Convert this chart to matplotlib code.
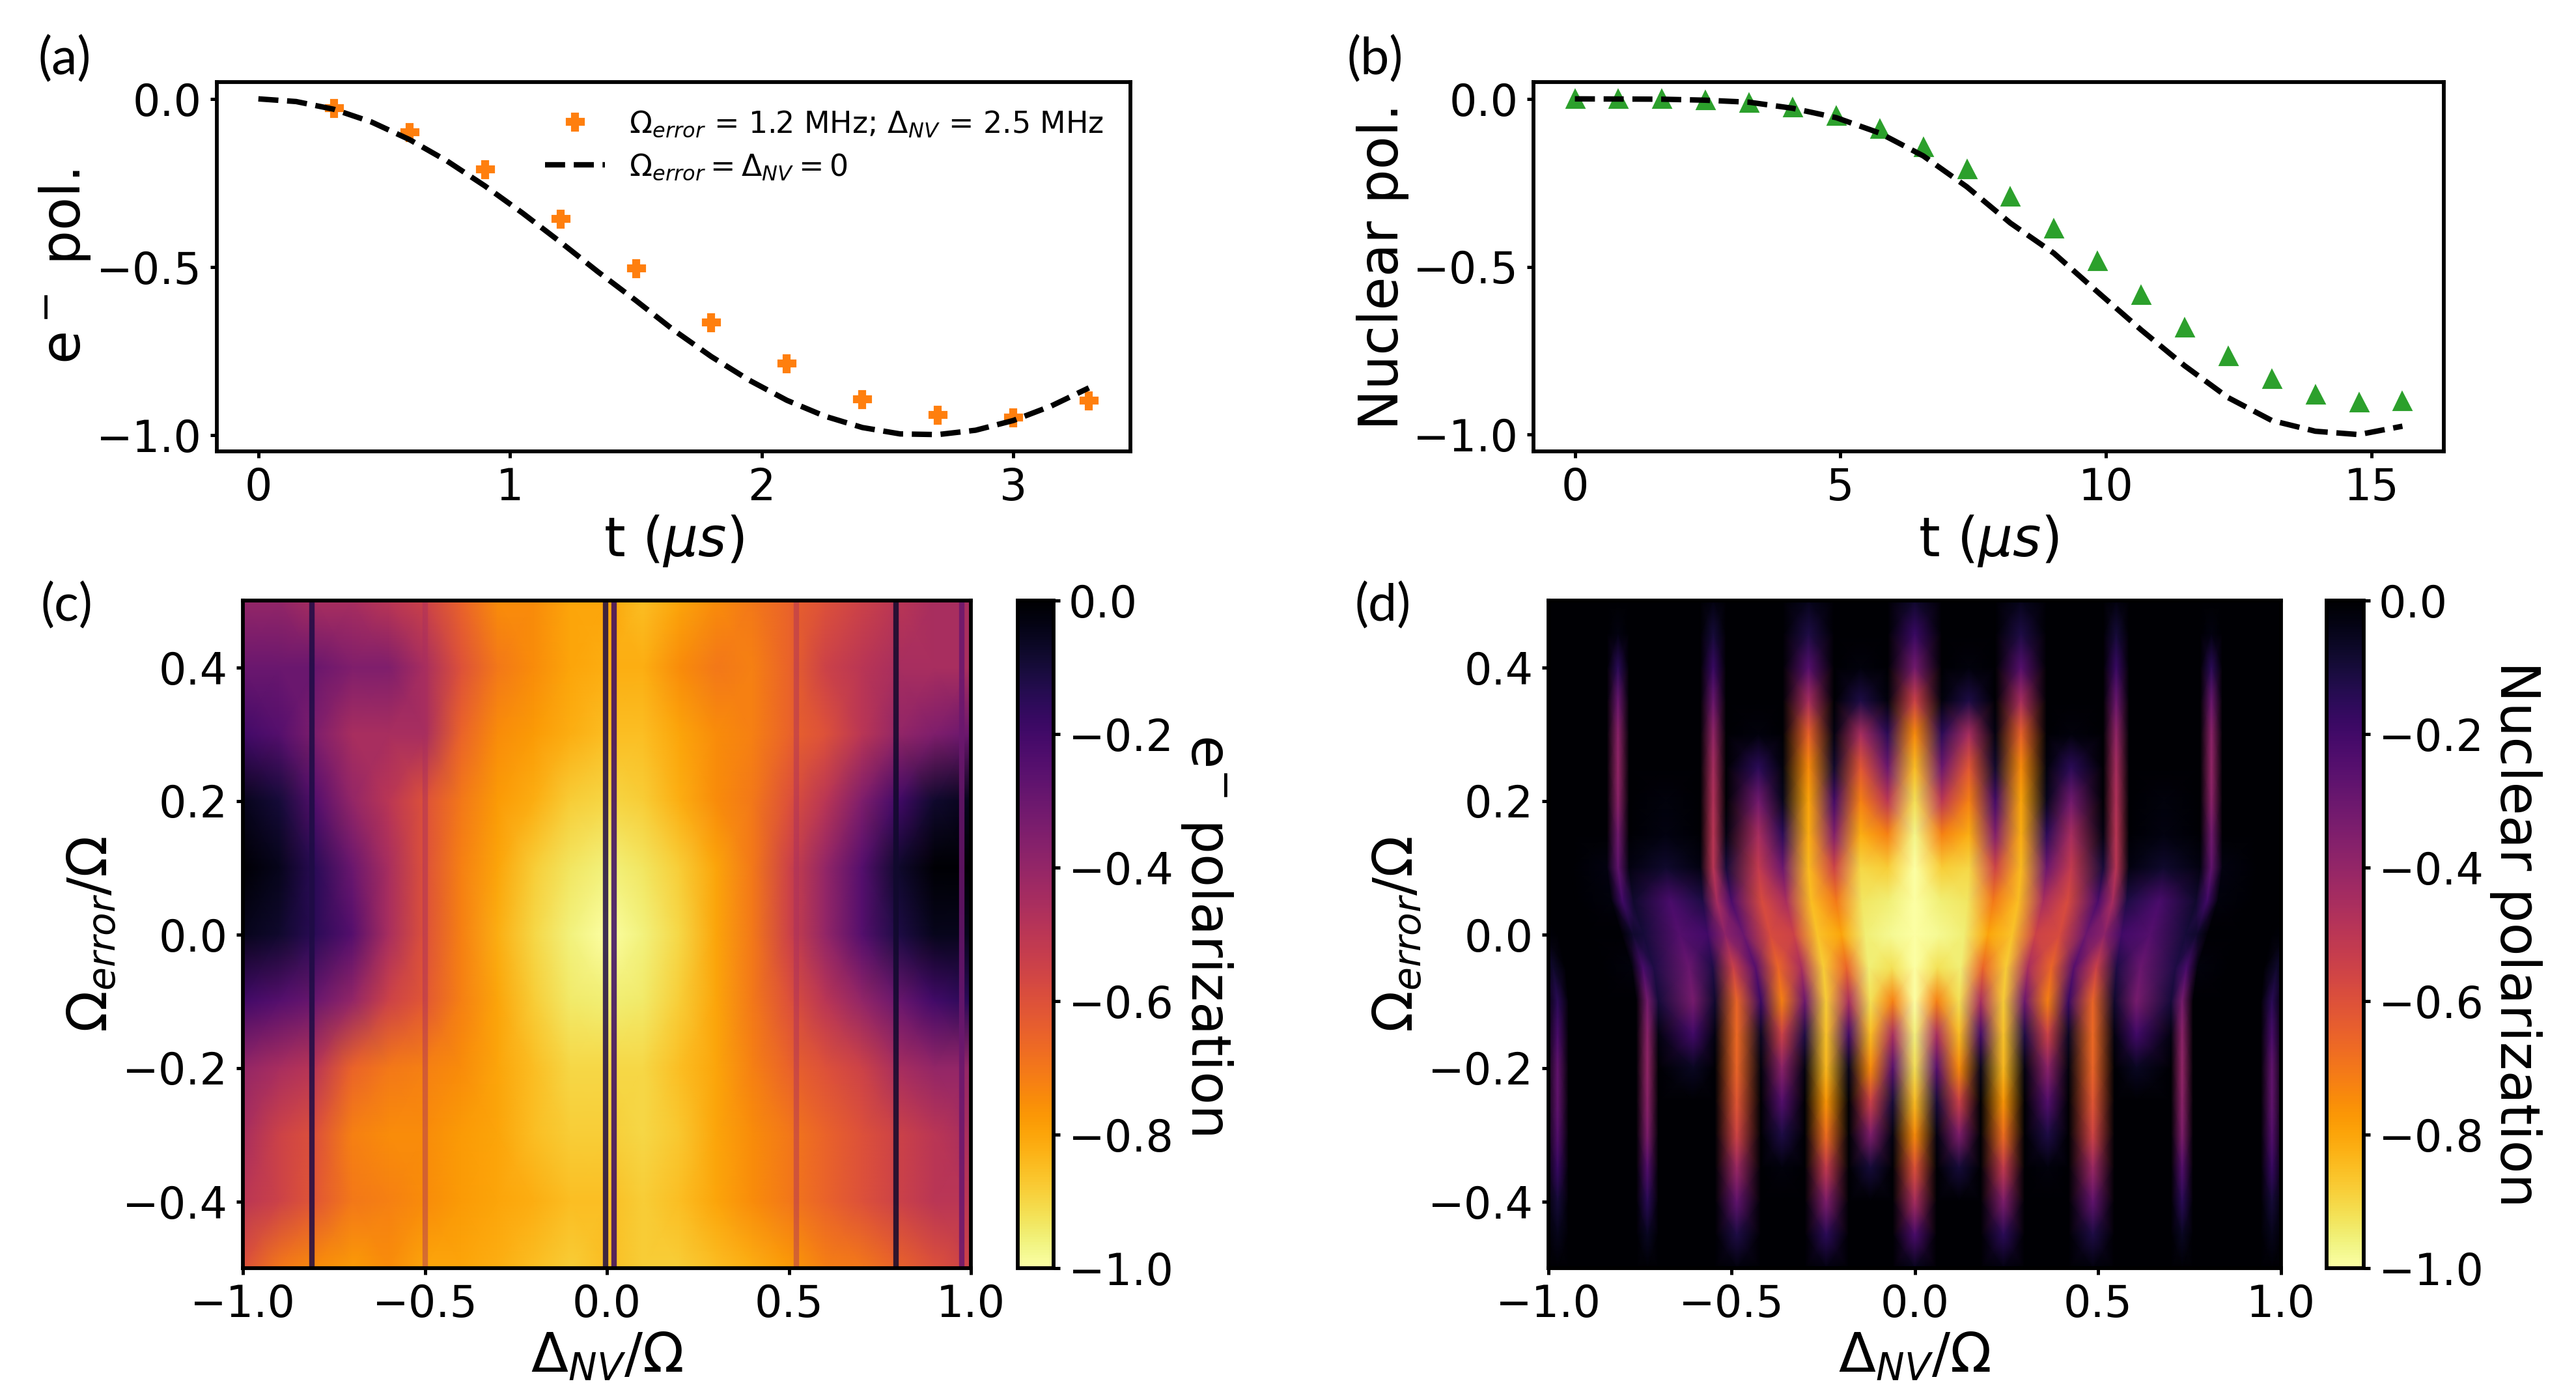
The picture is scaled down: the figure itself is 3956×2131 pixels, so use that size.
import numpy as np
import matplotlib.pyplot as plt
from matplotlib.colors import Normalize

# ---- (a) electron polarization vs time ----
t_a_pts = [0.3, 0.6, 0.9, 1.2, 1.5, 1.8, 2.1, 2.4, 2.7, 3.0, 3.3]
pol_a_pts = [-0.027, -0.10, -0.21, -0.358, -0.505, -0.665, -0.788, -0.893, -0.94, -0.948, -0.897]
t_a_line = [0, 0.15, 0.3, 0.45, 0.6, 0.75, 0.9, 1.05, 1.2, 1.35, 1.5, 1.65,
            1.8, 1.95, 2.1, 2.25, 2.4, 2.55, 2.7, 2.85, 3.0, 3.15, 3.3]
pol_a_line = [0, -0.008, -0.031, -0.069, -0.121, -0.185, -0.259, -0.340, -0.426,
              -0.515, -0.600, -0.688, -0.767, -0.837, -0.897, -0.944, -0.978,
              -0.997, -0.999, -0.986, -0.957, -0.914, -0.860]

# ---- (b) nuclear polarization vs time ----
t_b_pts = [0, 0.82, 1.64, 2.46, 3.28, 4.1, 4.92, 5.74, 6.56, 7.38, 8.2, 9.02,
           9.84, 10.66, 11.48, 12.3, 13.12, 13.94, 14.76, 15.58]
pol_b_pts = [0, 0, 0, -0.004, -0.012, -0.026, -0.051, -0.09, -0.144, -0.21, -0.292,
             -0.386, -0.483, -0.584, -0.681, -0.766, -0.834, -0.882, -0.905, -0.901]
t_b_line = [0, 1.64, 2.46, 3.28, 4.1, 4.92, 5.74, 6.56, 7.38, 8.2, 9.02, 9.84,
            10.66, 11.48, 12.3, 13.12, 13.94, 14.76, 15.58]
pol_b_line = [0, -0.001, -0.004, -0.01, -0.028, -0.056, -0.102, -0.17, -0.262,
              -0.37, -0.46, -0.575, -0.688, -0.795, -0.89, -0.958, -0.99, -1.0, -0.975]

# ---- (c) electron polarization map (polarization = -depth) ----
e_x = [-1.0, -0.9, -0.8, -0.7, -0.6, -0.5, -0.4, -0.3, -0.2, -0.1, 0.0,
       0.1, 0.2, 0.3, 0.4, 0.5, 0.6, 0.7, 0.8, 0.9, 1.0]
e_y = [0.5, 0.4, 0.3, 0.2, 0.1, 0.0, -0.1, -0.2, -0.3, -0.4, -0.5]
e_depth = [
    [0.40, 0.40, 0.45, 0.45, 0.50, 0.55, 0.65, 0.75, 0.75, 0.80, 0.80, 0.85, 0.80, 0.75, 0.70, 0.65, 0.60, 0.55, 0.50, 0.45, 0.45],
    [0.30, 0.30, 0.30, 0.35, 0.35, 0.45, 0.60, 0.70, 0.75, 0.80, 0.82, 0.82, 0.75, 0.70, 0.72, 0.65, 0.55, 0.50, 0.45, 0.45, 0.45],
    [0.20, 0.25, 0.35, 0.45, 0.45, 0.45, 0.65, 0.75, 0.78, 0.82, 0.85, 0.85, 0.80, 0.75, 0.72, 0.65, 0.60, 0.50, 0.40, 0.35, 0.30],
    [0.05, 0.10, 0.25, 0.40, 0.50, 0.60, 0.70, 0.78, 0.82, 0.88, 0.90, 0.88, 0.82, 0.75, 0.70, 0.60, 0.50, 0.35, 0.20, 0.08, 0.05],
    [0.00, 0.05, 0.15, 0.30, 0.45, 0.60, 0.72, 0.80, 0.88, 0.93, 0.96, 0.93, 0.88, 0.80, 0.70, 0.55, 0.40, 0.25, 0.08, 0.00, 0.00],
    [0.05, 0.08, 0.15, 0.25, 0.45, 0.60, 0.72, 0.82, 0.90, 0.96, 1.00, 0.96, 0.90, 0.80, 0.70, 0.55, 0.40, 0.25, 0.12, 0.05, 0.05],
    [0.20, 0.25, 0.30, 0.40, 0.55, 0.62, 0.72, 0.80, 0.88, 0.94, 0.95, 0.94, 0.88, 0.80, 0.70, 0.60, 0.50, 0.40, 0.30, 0.20, 0.15],
    [0.40, 0.45, 0.50, 0.65, 0.70, 0.72, 0.75, 0.80, 0.85, 0.90, 0.90, 0.90, 0.85, 0.80, 0.72, 0.65, 0.60, 0.55, 0.45, 0.40, 0.40],
    [0.45, 0.55, 0.60, 0.72, 0.75, 0.75, 0.78, 0.80, 0.85, 0.88, 0.88, 0.90, 0.87, 0.80, 0.75, 0.70, 0.65, 0.60, 0.55, 0.50, 0.45],
    [0.50, 0.55, 0.62, 0.70, 0.72, 0.75, 0.78, 0.80, 0.82, 0.85, 0.85, 0.88, 0.85, 0.80, 0.75, 0.70, 0.65, 0.60, 0.55, 0.50, 0.50],
    [0.60, 0.70, 0.75, 0.78, 0.75, 0.80, 0.80, 0.82, 0.85, 0.88, 0.85, 0.88, 0.88, 0.85, 0.82, 0.78, 0.72, 0.70, 0.65, 0.60, 0.55],
]
# thin dark resonance lines in (c)
e_line_x = [-0.81, -0.5, -0.004, 0.02, 0.52, 0.795, 0.975]
e_line_pol = [-0.12, -0.45, -0.12, -0.18, -0.45, -0.08, -0.3]
e_line_alpha = [0.85, 0.45, 0.85, 0.85, 0.45, 0.85, 0.85]

# ---- (d) nuclear polarization map (polarization = -depth) ----
# columns: streak k, gap after k, ... ; positions for the upper and lower streak families
n_y = [0.5, 0.45, 0.4, 0.35, 0.3, 0.25, 0.2, 0.15, 0.1, 0.05, 0.0,
       -0.05, -0.1, -0.15, -0.2, -0.25, -0.3, -0.35, -0.4, -0.45, -0.5]
n_cols_upper = [0, 0.074, 0.148, 0.22, 0.29, 0.36, 0.427, 0.515, 0.55, 0.585,
                0.68, 0.78, 0.81, 0.84, 0.94, 1.0, 1.06, 1.12]
n_cols_lower = [0, 0.06, 0.121, 0.18, 0.242, 0.30, 0.363, 0.42, 0.486, 0.545,
                0.605, 0.70, 0.73, 0.76, 0.85, 0.945, 0.975, 1.005]
# share of the lower family in each row
n_family = [0, 0, 0, 0, 0, 0, 0, 0, 0, 0.15, 0.5,
            0.85, 1, 1, 1, 1, 1, 1, 1, 1, 1]
n_depth = [
    #k0    g0    k1    g1    k2    g2    k3    g3    k4    g4    k5    g5    k6    g6    k7  g7  k8    g8
    [0.08, 0,    0,    0,    0.05, 0,    0,    0,    0.03, 0,    0,    0,    0,    0,    0, 0, 0,    0],
    [0.18, 0,    0,    0,    0.12, 0,    0,    0,    0.10, 0,    0,    0,    0.03, 0,    0, 0, 0,    0],
    [0.32, 0,    0.02, 0,    0.25, 0,    0,    0,    0.18, 0,    0,    0,    0.15, 0,    0, 0, 0,    0],
    [0.55, 0.02, 0.12, 0,    0.45, 0,    0,    0,    0.30, 0,    0,    0,    0.30, 0,    0, 0, 0,    0],
    [0.75, 0.15, 0.45, 0.03, 0.65, 0,    0.02, 0,    0.40, 0,    0,    0,    0.38, 0,    0, 0, 0,    0],
    [0.85, 0.30, 0.62, 0.08, 0.75, 0.02, 0.15, 0,    0.45, 0,    0,    0,    0.40, 0,    0, 0, 0,    0],
    [0.92, 0.50, 0.72, 0.20, 0.80, 0.05, 0.32, 0,    0.48, 0,    0.02, 0,    0.38, 0,    0, 0, 0,    0],
    [0.97, 0.72, 0.82, 0.35, 0.82, 0.15, 0.45, 0.03, 0.50, 0,    0.03, 0,    0.32, 0,    0, 0, 0,    0],
    [1.00, 0.88, 0.90, 0.55, 0.84, 0.30, 0.52, 0.10, 0.50, 0.03, 0.08, 0.03, 0.28, 0.03, 0, 0, 0,    0],
    [1.00, 0.95, 0.93, 0.70, 0.85, 0.45, 0.58, 0.22, 0.45, 0.12, 0.22, 0.08, 0.20, 0.02, 0, 0, 0,    0],
    [1.00, 0.98, 0.95, 0.80, 0.86, 0.55, 0.58, 0.30, 0.38, 0.20, 0.25, 0.10, 0.08, 0,    0, 0, 0.02, 0],
    [1.00, 0.92, 0.95, 0.65, 0.88, 0.45, 0.66, 0.25, 0.55, 0.12, 0.30, 0.12, 0.22, 0.02, 0, 0, 0.08, 0],
    [1.00, 0.72, 0.92, 0.45, 0.88, 0.30, 0.72, 0.18, 0.66, 0.08, 0.33, 0.10, 0.33, 0,    0, 0, 0.15, 0],
    [0.96, 0.45, 0.85, 0.20, 0.86, 0.12, 0.55, 0.06, 0.67, 0.03, 0.20, 0.03, 0.38, 0,    0, 0, 0.22, 0],
    [0.92, 0.25, 0.75, 0.05, 0.84, 0.03, 0.38, 0.02, 0.66, 0,    0.06, 0,    0.40, 0,    0, 0, 0.28, 0],
    [0.85, 0.10, 0.55, 0,    0.77, 0,    0.25, 0,    0.62, 0,    0,    0,    0.38, 0,    0, 0, 0.28, 0],
    [0.75, 0.03, 0.35, 0,    0.68, 0,    0.12, 0,    0.56, 0,    0,    0,    0.35, 0,    0, 0, 0.25, 0],
    [0.60, 0,    0.10, 0,    0.52, 0,    0.02, 0,    0.42, 0,    0,    0,    0.25, 0,    0, 0, 0.18, 0],
    [0.45, 0,    0,    0,    0.35, 0,    0,    0,    0.28, 0,    0,    0,    0.15, 0,    0, 0, 0.10, 0],
    [0.22, 0,    0,    0,    0.15, 0,    0,    0,    0.12, 0,    0,    0,    0.06, 0,    0, 0, 0.05, 0],
    [0.05, 0,    0,    0,    0.03, 0,    0,    0,    0.02, 0,    0,    0,    0,    0,    0, 0, 0,    0],
]

cbar_ticks = [0.0, -0.2, -0.4, -0.6, -0.8, -1.0]

plt.rcParams['font.family'] = 'DejaVu Sans'
plt.rcParams['axes.linewidth'] = 1.4
for ax_name in ('xtick', 'ytick'):
    plt.rcParams[ax_name + '.major.width'] = 1.2
    plt.rcParams[ax_name + '.major.size'] = 2.5
    plt.rcParams[ax_name + '.major.pad'] = 3
    plt.rcParams[ax_name + '.labelsize'] = 16
plt.rcParams['axes.labelsize'] = 20
plt.rcParams['axes.labelpad'] = 1.5

W, H = 3956, 2131
fig = plt.figure(figsize=(W / 300, H / 300), dpi=300)

def box(x0, y0, x1, y1):
    # pixel box of the reference -> figure fraction
    return [x0 / W, 1 - y1 / H, (x1 - x0) / W, (y1 - y0) / H]

ax_a = fig.add_axes(box(333, 126, 1736, 693))
ax_b = fig.add_axes(box(2355, 126, 3753, 693))
ax_c = fig.add_axes(box(373, 922, 1491, 1947))
cax_c = fig.add_axes(box(1563, 922, 1618, 1947))
ax_d = fig.add_axes(box(2378, 922, 3503, 1947))
cax_d = fig.add_axes(box(3573, 922, 3630, 1947))

# (a)
ax_a.plot(t_a_pts, pol_a_pts, 'P', color='#ff7f0e', ms=6,
          label=r'$\Omega_{error}$ = 1.2 MHz; $\Delta_{NV}$ = 2.5 MHz')
ax_a.plot(t_a_line, pol_a_line, '--', color='black', lw=2,
          label=r'$\Omega_{error} = \Delta_{NV} = 0$')
ax_a.set_xlabel(r't ($\mu s$)')
ax_a.set_ylabel(r'e$^-$ pol.')
ax_a.set_xticks([0, 1, 2, 3])
ax_a.set_yticks([0.0, -0.5, -1.0])
ax_a.legend(loc='upper right', frameon=False, fontsize=11, labelspacing=0.45)

# (b)
ax_b.plot(t_b_pts, pol_b_pts, '^', color='#2ca02c', ms=6)
ax_b.plot(t_b_line, pol_b_line, '--', color='black', lw=2)
ax_b.set_xlabel(r't ($\mu s$)')
ax_b.set_ylabel('Nuclear pol.')
ax_b.set_xticks([0, 5, 10, 15])
ax_b.set_yticks([0.0, -0.5, -1.0])

cmap = plt.get_cmap('inferno_r')
norm = Normalize(vmin=-1, vmax=0)

# (c)
mesh_c = ax_c.pcolormesh(e_x, e_y, -np.array(e_depth), shading='gouraud',
                         cmap=cmap, norm=norm)
for x, v, a in zip(e_line_x, e_line_pol, e_line_alpha):
    ax_c.axvline(x, color=cmap(norm(v)), lw=2.0, alpha=a)
ax_c.set_xlim(-1, 1)
ax_c.set_ylim(-0.5, 0.5)
ax_c.set_xlabel(r'$\Delta_{NV}/\Omega$')
ax_c.set_ylabel(r'$\Omega_{error}/\Omega$')
ax_c.set_xticks([-1.0, -0.5, 0.0, 0.5, 1.0])
ax_c.set_yticks([0.4, 0.2, 0.0, -0.2, -0.4])
cb_c = fig.colorbar(mesh_c, cax=cax_c, ticks=cbar_ticks)
cb_c.set_label(r'e$^{-}$ polarization', rotation=270, va='bottom', labelpad=2, fontsize=20)

# (d) curvilinear grid, mirrored about zero detuning
fam = np.array(n_family)[:, None]
cols = (1 - fam) * np.array(n_cols_upper) + fam * np.array(n_cols_lower)
X = np.concatenate([-cols[:, :0:-1], cols], axis=1)
Y = np.repeat(np.array(n_y)[:, None], X.shape[1], axis=1)
dep = np.array(n_depth)
dep_full = np.concatenate([dep[:, :0:-1], dep], axis=1)
mesh_d = ax_d.pcolormesh(X, Y, -dep_full, shading='gouraud', cmap=cmap, norm=norm)
ax_d.set_facecolor(cmap(norm(0)))
ax_d.set_xlim(-1, 1)
ax_d.set_ylim(-0.5, 0.5)
ax_d.set_xlabel(r'$\Delta_{NV}/\Omega$')
ax_d.set_ylabel(r'$\Omega_{error}/\Omega$')
ax_d.set_xticks([-1.0, -0.5, 0.0, 0.5, 1.0])
ax_d.set_yticks([0.4, 0.2, 0.0, -0.2, -0.4])
cb_d = fig.colorbar(mesh_d, cax=cax_d, ticks=cbar_ticks)
cb_d.set_label('Nuclear polarization', rotation=270, va='bottom', labelpad=2, fontsize=20)

for cb in (cb_c, cb_d):
    cb.outline.set_linewidth(1.4)
    cb.ax.tick_params(width=1.2, length=2.5, pad=3)

for lab, x, y in [('(a)', 58, 92), ('(b)', 2069, 92), ('(c)', 63, 931), ('(d)', 2081, 931)]:
    fig.text(x / W, 1 - y / H, lab, fontsize=19, family='Lato', ha='left', va='center')

fig.savefig('out.png', dpi=300)
